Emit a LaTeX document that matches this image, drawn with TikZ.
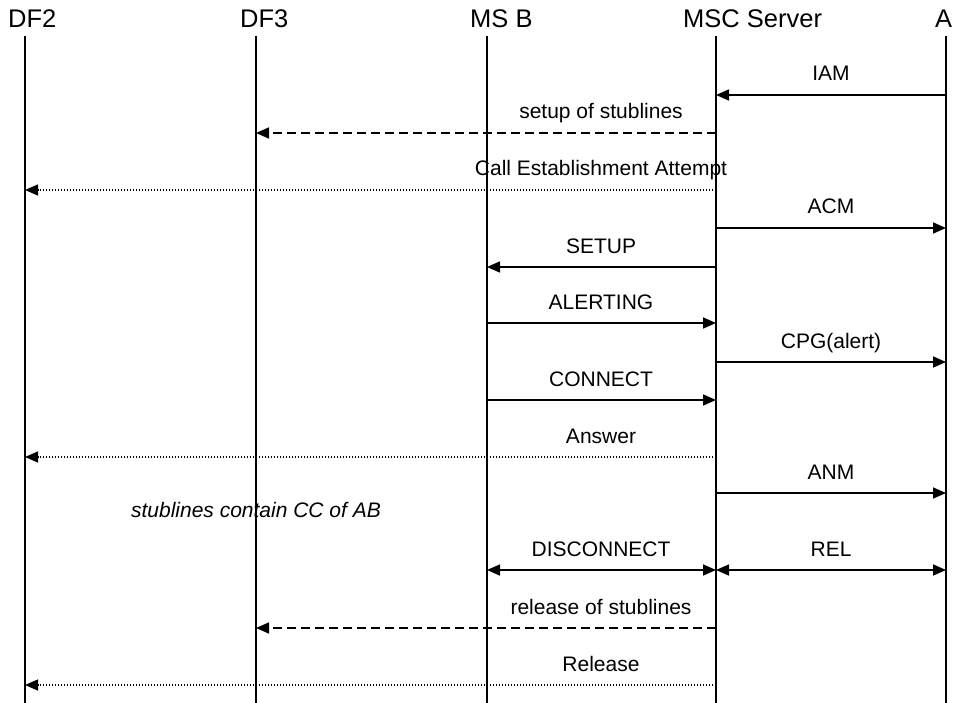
\documentclass[tikz,border=0pt]{standalone}
\usepackage{fontspec}
\setmainfont{Liberation Sans}
\usetikzlibrary{arrows.meta}
\tikzset{
  hdr/.style={anchor=base west,inner sep=0pt,font=\fontsize{25.5}{30}\selectfont},
  lbl/.style={anchor=base,inner sep=0pt,font=\fontsize{21}{25}\selectfont},
  life/.style={line width=2pt},
  msg/.style={line width=1.6pt,-{Triangle[length=13pt,width=11pt]}},
  dmsg/.style={line width=1.6pt,{Triangle[length=13pt,width=11pt]}-{Triangle[length=13pt,width=11pt]}},
  dsh/.style={msg,dash pattern=on 9pt off 5pt},
  dtt/.style={line width=1.2pt,dash pattern=on 1.2pt off 1.8pt,-{Triangle[length=13pt,width=11pt]}}
}
\begin{document}
\begin{tikzpicture}[x=1pt,y=-1pt]
\useasboundingbox (0,0) rectangle (957,703);
% headers
\node[hdr] (hDF2) at (8,28) {DF2};
\node[hdr] (hDF3) at (240,28) {DF3};
\node[hdr] (hMSB) at (470,28) {MS B};
\node[hdr] (hMSC) at (683,28) {MSC Server};
\node[hdr] (hA) at (935,28) {A};
% lifelines
\foreach \n/\x in {DF2/25,DF3/256,MSB/487,MSC/716,A/946}{
  \coordinate (t\n) at (\x,36);
  \coordinate (b\n) at (\x,703);
  \draw[life] (t\n) -- (b\n);
}
% message endpoints
\foreach \n/\x in {DF2/25,DF3/256,MSB/487,MSC/716,A/946}{
  \foreach \k/\y in {1/95,2/133,3/190,4/228,5/267,6/323,7/362,8/400,9/457,10/493,11/570,12/628,13/685}{
    \coordinate (\n\k) at (\x,\y);
  }
}
% messages
\draw[msg] (A1) -- (MSC1);
\node[lbl] (l1) at (831,81) {IAM};
\draw[dsh] (MSC2) -- (DF32);
\node[lbl] (l2) at (601,119) {setup of stublines};
\draw[dtt] (MSC3) -- (DF23);
\node[lbl] (l3) at (601,176) {Call Establishment Attempt};
\draw[msg] (MSC4) -- (A4);
\node[lbl] (l4) at (831,214) {ACM};
\draw[msg] (MSC5) -- (MSB5);
\node[lbl] (l5) at (601,253) {SETUP};
\draw[msg] (MSB6) -- (MSC6);
\node[lbl] (l6) at (601,309) {ALERTING};
\draw[msg] (MSC7) -- (A7);
\node[lbl] (l7) at (831,348) {CPG(alert)};
\draw[msg] (MSB8) -- (MSC8);
\node[lbl] (l8) at (601,386) {CONNECT};
\draw[dtt] (MSC9) -- (DF29);
\node[lbl] (l9) at (601,443) {Answer};
\draw[msg] (MSC10) -- (A10);
\node[lbl] (l10) at (831,479) {ANM};
\node[lbl,font=\fontsize{21}{25}\selectfont\itshape] (note) at (256,517) {stublines contain CC of AB};
\draw[dmsg] (MSB11) -- (MSC11);
\node[lbl] (l11) at (601,556) {DISCONNECT};
\draw[dmsg] (MSC11) -- (A11);
\node[lbl] (l12) at (831,556) {REL};
\draw[dsh] (MSC12) -- (DF312);
\node[lbl] (l13) at (601,614) {release of stublines};
\draw[dtt] (MSC13) -- (DF213);
\node[lbl] (l14) at (601,671) {Release};
\end{tikzpicture}
\end{document}
